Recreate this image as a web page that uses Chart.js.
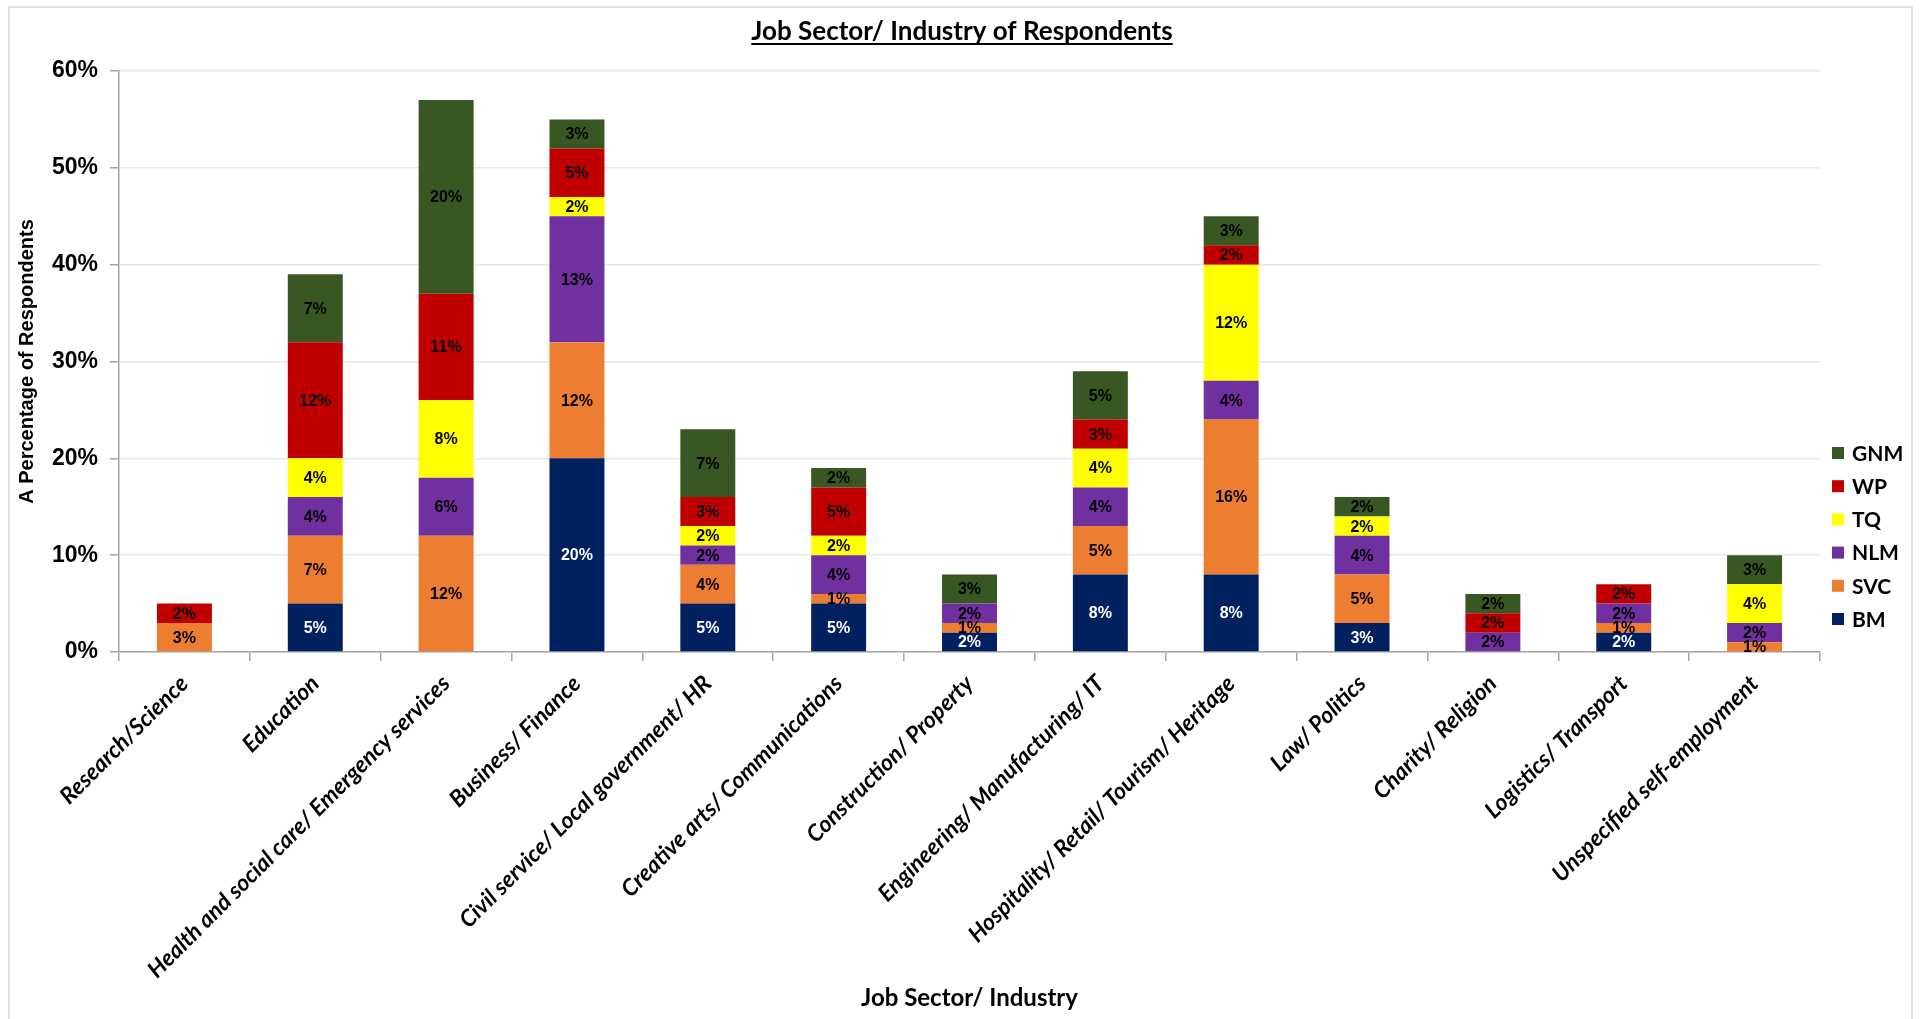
<!DOCTYPE html>
<html lang="en">
<head>
    <meta charset="UTF-8">
    <title>Job Sector/ Industry of Respondents</title>
    <style>
        body {
          margin: 0;
          padding: 0;
          background: #fff;
        }
        .wrap {
          position: relative;
          width: 1919px;
          height: 1019px;
        }
    </style>
</head>
<body>
<div class="wrap">
    <canvas id="sectorChart" width="1919" height="1019"></canvas>
</div>

<script src="https://cdn.jsdelivr.net/npm/chart.js"></script>
<script>
    // Categories and stacked series (percent of respondents), bottom to top
    const categories = [
      'Research/Science', 'Education', 'Health and social care/ Emergency services',
      'Business/ Finance', 'Civil service/ Local government/ HR', 'Creative arts/ Communications',
      'Construction/ Property', 'Engineering/ Manufacturing/ IT', 'Hospitality/ Retail/ Tourism/ Heritage',
      'Law/ Politics', 'Charity/ Religion', 'Logistics/ Transport', 'Unspecified self-employment'
    ];
    const bmData  = [0, 5, 0, 20, 5, 5, 2, 8, 8, 3, 0, 2, 0];
    const svcData = [3, 7, 12, 12, 4, 1, 1, 5, 16, 5, 0, 1, 1];
    const nlmData = [0, 4, 6, 13, 2, 4, 2, 4, 4, 4, 2, 2, 2];
    const tqData  = [0, 4, 8, 2, 2, 2, 0, 4, 12, 2, 0, 0, 4];
    const wpData  = [2, 12, 11, 5, 3, 5, 0, 3, 2, 0, 2, 2, 0];
    const gnmData = [0, 7, 20, 3, 7, 2, 3, 5, 3, 2, 2, 0, 3];
    const yTicks  = [0, 10, 20, 30, 40, 50, 60];

    const calibri = 'Lato, "Open Sans", sans-serif';
    const arial = '"Liberation Sans", Arial, sans-serif';

    function series(label, data, color) {
      return {
        label: label,
        data: data,
        backgroundColor: color,
        borderWidth: 0,
        categoryPercentage: 1.0,
        barPercentage: 0.42
      };
    }

    // Frame, underlined title
    const decorPlugin = {
      id: 'decor',
      beforeDraw(chart) {
        const c = chart.ctx;
        c.save();
        c.strokeStyle = '#d9d9d9';
        c.lineWidth = 1.5;
        c.beginPath();
        c.moveTo(9, 1019);
        c.lineTo(9, 7);
        c.lineTo(1912, 7);
        c.lineTo(1912, 1019);
        c.stroke();
        c.restore();
      },
      afterDraw(chart) {
        const c = chart.ctx;
        const text = 'Job Sector/ Industry of Respondents';
        c.save();
        c.font = 'bold 26px ' + calibri;
        c.fillStyle = '#000';
        c.textAlign = 'center';
        c.textBaseline = 'alphabetic';
        const cx = 962;
        c.fillText(text, cx, 40);
        const w = c.measureText(text).width;
        c.fillRect(cx - w / 2, 43, w, 2);
        c.restore();
      }
    };

    // Percent labels inside each segment
    const segmentLabels = {
      id: 'segmentLabels',
      afterDatasetsDraw(chart) {
        const c = chart.ctx;
        c.save();
        c.font = 'bold 16px ' + arial;
        c.textAlign = 'center';
        c.textBaseline = 'middle';
        chart.data.datasets.forEach((ds, di) => {
          const meta = chart.getDatasetMeta(di);
          meta.data.forEach((bar, i) => {
            const v = ds.data[i];
            if (!v) return;
            c.fillStyle = ds.label === 'BM' ? '#fff' : '#000';
            c.fillText(v + '%', bar.x, (bar.y + bar.base) / 2 + 1);
          });
        });
        c.restore();
      }
    };

    // Legend on the right, top item = last dataset
    const sideLegend = {
      id: 'sideLegend',
      afterDraw(chart) {
        const c = chart.ctx;
        const items = chart.data.datasets.slice().reverse();
        c.save();
        c.font = 'bold 21px ' + calibri;
        c.textBaseline = 'middle';
        c.textAlign = 'left';
        items.forEach((ds, k) => {
          const y = 453 + k * 33.2;
          c.fillStyle = ds.backgroundColor;
          c.fillRect(1832, y - 6, 12, 12);
          c.fillStyle = '#000';
          c.fillText(ds.label, 1852, y + 1);
        });
        c.restore();
      }
    };

    const ctx = document.getElementById('sectorChart').getContext('2d');
    const sectorChart = new Chart(ctx, {
      type: 'bar',
      data: {
        labels: categories,
        datasets: [
          series('BM', bmData, '#002060'),
          series('SVC', svcData, '#ED7D31'),
          series('NLM', nlmData, '#7030A0'),
          series('TQ', tqData, '#FFFF00'),
          series('WP', wpData, '#C00000'),
          series('GNM', gnmData, '#385723')
        ]
      },
      options: {
        responsive: false,
        animation: false,
        layout: { padding: { top: 71, right: 99, left: 0, bottom: 0 } },
        plugins: {
          legend: { display: false },
          tooltip: { enabled: false }
        },
        scales: {
          x: {
            stacked: true,
            afterFit(scale) { scale.height = 1019 - 652; },
            grid: {
              offset: true,
              drawOnChartArea: false,
              color: '#a6a6a6',
              tickLength: 9,
              lineWidth: 1.5
            },
            border: { color: '#a6a6a6', width: 1.5 },
            ticks: {
              color: '#000',
              autoSkip: false,
              minRotation: 45,
              maxRotation: 45,
              padding: 9,
              font: { family: calibri, size: 23, weight: 'bold', style: 'italic' }
            },
            title: {
              display: true,
              text: 'Job Sector/ Industry',
              color: '#000',
              padding: { top: 4, bottom: 6 },
              font: { family: calibri, size: 24, weight: 'bold' }
            }
          },
          y: {
            stacked: true,
            min: 0,
            max: 60,
            afterFit(scale) { scale.width = 119; },
            afterBuildTicks(scale) { scale.ticks = yTicks.map(v => ({ value: v })); },
            grid: {
              color: '#e8e8e8',
              tickColor: '#a6a6a6',
              tickLength: 9,
              lineWidth: 1.5
            },
            border: { color: '#a6a6a6', width: 1.5 },
            ticks: {
              color: '#000',
              padding: 12,
              callback: v => v + '%',
              font: { family: arial, size: 23, weight: 'bold' }
            },
            title: {
              display: true,
              text: 'A Percentage of Respondents',
              color: '#000',
              padding: { top: 15, bottom: 0 },
              font: { family: arial, size: 20, weight: 'bold' }
            }
          }
        }
      },
      plugins: [decorPlugin, segmentLabels, sideLegend]
    });
</script>
</body>
</html>
